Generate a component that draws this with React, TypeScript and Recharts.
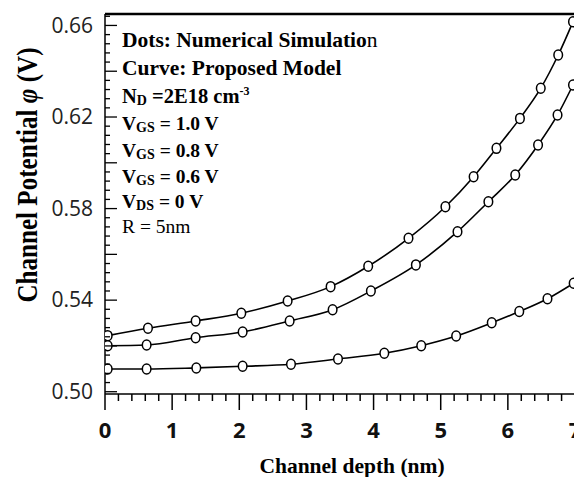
import React from 'react';
import { LineChart, Line, XAxis, YAxis, ReferenceLine } from 'recharts';

// VGS = 1.0 V (top curve)
const xVgs10 = [0.04, 0.64, 1.35, 2.03, 2.72, 3.36, 3.92, 4.52, 5.07, 5.49, 5.83, 6.18, 6.49, 6.75, 6.97];
const yVgs10 = [0.5245, 0.5277, 0.5309, 0.5343, 0.5396, 0.5459, 0.5548, 0.567, 0.5808, 0.5939, 0.6063, 0.6194, 0.6326, 0.6471, 0.6616];
// VGS = 0.8 V (middle curve)
const xVgs08 = [0.04, 0.62, 1.35, 2.05, 2.75, 3.39, 3.96, 4.63, 5.25, 5.71, 6.11, 6.45, 6.74, 6.97];
const yVgs08 = [0.5201, 0.5204, 0.5236, 0.5261, 0.5309, 0.5358, 0.544, 0.5554, 0.5699, 0.583, 0.5947, 0.6078, 0.6209, 0.634];
// VGS = 0.6 V (bottom curve)
const xVgs06 = [0.04, 0.62, 1.36, 2.05, 2.77, 3.47, 4.16, 4.71, 5.23, 5.76, 6.17, 6.59, 6.98];
const yVgs06 = [0.5099, 0.5099, 0.5104, 0.5111, 0.512, 0.5143, 0.5168, 0.5201, 0.5243, 0.5301, 0.535, 0.5406, 0.5474];

const xMajorTicks = [0, 1, 2, 3, 4, 5, 6, 7];
const yLabelTicks = [0.5, 0.54, 0.58, 0.62, 0.66];
const xDomain = [0, 7];
const yDomain = [0.499, 0.665];

const xTicks = Array.from({ length: 36 }, (_, i) => Math.round(i * 0.2 * 1000) / 1000);
const yTicks = Array.from({ length: 42 }, (_, i) => Math.round((0.5 + i * 0.004) * 10000) / 10000);

const toPoints = (xs: number[], ys: number[]) => xs.map((x, i) => ({ x, y: ys[i] }));
const dataVgs10 = toPoints(xVgs10, yVgs10);
const dataVgs08 = toPoints(xVgs08, yVgs08);
const dataVgs06 = toPoints(xVgs06, yVgs06);

const serif = '"Liberation Serif", "Times New Roman", serif';
const sans = '"Open Sans", sans-serif';

const XTick = (props: any) => {
  const { x, y, payload } = props;
  const v = payload.value;
  const major = xMajorTicks.some((m) => Math.abs(m - v) < 1e-6);
  return (
    <g>
      <line x1={x} x2={x} y1={y} y2={y + (major ? 16 : 7)} stroke="#000" strokeWidth={1.5} />
      {major && (
        <text x={x} y={y + 36} dy="0.35em" textAnchor="middle" fontFamily={sans} fontWeight="bold" fontSize={22} fill="#111">
          {Math.round(v)}
        </text>
      )}
    </g>
  );
};

const YTick = (props: any) => {
  const { x, y, payload } = props;
  const v = payload.value;
  const major = Math.abs(v * 50 - Math.round(v * 50)) < 1e-6;
  const label = yLabelTicks.some((m) => Math.abs(m - v) < 1e-6);
  return (
    <g>
      <line x1={x} x2={x + (major ? 12 : 5)} y1={y} y2={y} stroke="#000" strokeWidth={1.3} />
      {label && (
        <text x={x - 12} y={y} dy="0.35em" textAnchor="end" fontFamily={sans} fontSize={21} fill="#222">
          {v.toFixed(2)}
        </text>
      )}
    </g>
  );
};

const renderDot = (p: any) => {
  const { cx, cy, index } = p;
  if (cx == null || cy == null) return <g key={index} />;
  return <ellipse key={index} cx={cx} cy={cy} rx={4.3} ry={5} fill="#fff" stroke="#000" strokeWidth={1.5} />;
};

const sub = (t: string) => (
  <>
    <tspan fontSize={14} dy={2}>{t}</tspan>
  </>
);

export default function App() {
  return (
    <div style={{ position: 'absolute', left: 0, top: 0, width: 574, height: 477, overflow: 'hidden', background: '#fff' }}>
      <LineChart width={600} height={477} margin={{ top: 14, right: 25, bottom: 0, left: 0 }}>
        <XAxis
          dataKey="x"
          type="number"
          domain={xDomain}
          allowDataOverflow
          ticks={xTicks}
          interval={0}
          tickSize={0}
          tickMargin={0}
          tickLine={false}
          tick={XTick}
          height={83}
          axisLine={{ stroke: '#000', strokeWidth: 1.5 }}
        />
        <YAxis
          type="number"
          domain={yDomain}
          allowDataOverflow
          ticks={yTicks}
          interval={0}
          width={105}
          tickSize={0}
          tickMargin={0}
          tickLine={false}
          tick={YTick}
          axisLine={{ stroke: '#000', strokeWidth: 1.5 }}
        />
        <ReferenceLine y={0.665} stroke="#000" strokeWidth={2.5} />
        <Line data={dataVgs10} dataKey="y" name="VGS = 1.0 V" type="monotone" stroke="#000" strokeWidth={1.6} dot={renderDot} isAnimationActive={false} />
        <Line data={dataVgs08} dataKey="y" name="VGS = 0.8 V" type="monotone" stroke="#000" strokeWidth={1.6} dot={renderDot} isAnimationActive={false} />
        <Line data={dataVgs06} dataKey="y" name="VGS = 0.6 V" type="monotone" stroke="#000" strokeWidth={1.6} dot={renderDot} isAnimationActive={false} />

        <text x={352} y={473} textAnchor="middle" fontFamily={serif} fontWeight="bold" fontSize={21.5} fill="#000">
          Channel depth (nm)
        </text>
        <text
          x={0}
          y={0}
          transform="translate(37,175) rotate(-90)"
          textAnchor="middle"
          fontFamily={serif}
          fontWeight="bold"
          fontSize={29}
          textLength={255}
          lengthAdjust="spacingAndGlyphs"
          fill="#000"
        >
          Channel Potential <tspan fontStyle="italic">φ</tspan> (V)
        </text>

        <g fontFamily={serif} fill="#000">
          <text x={122} y={47} fontWeight="bold" fontSize={21.5}>
            Dots: Numerical Simulatio<tspan fontWeight="normal">n</tspan>
          </text>
          <text x={122} y={75} fontWeight="bold" fontSize={21.5}>
            Curve: Proposed Model
          </text>
          <text x={122} y={103} fontWeight="bold" fontSize={20.5}>
            N{sub('D')}
            <tspan dy={-2}>{' =2E18 cm'}</tspan>
            <tspan fontSize={12} dy={-8}>-3</tspan>
          </text>
          <text x={122} y={130} fontWeight="bold" fontSize={19.5}>
            V{sub('GS')}
            <tspan dy={-2}>{' = 1.0 V'}</tspan>
          </text>
          <text x={122} y={157} fontWeight="bold" fontSize={19.5}>
            V{sub('GS')}
            <tspan dy={-2}>{' = 0.8 V'}</tspan>
          </text>
          <text x={122} y={183} fontWeight="bold" fontSize={19.5}>
            V{sub('GS')}
            <tspan dy={-2}>{' = 0.6 V'}</tspan>
          </text>
          <text x={122} y={208} fontWeight="bold" fontSize={19.5}>
            V{sub('DS')}
            <tspan dy={-2}>{' = 0 V'}</tspan>
          </text>
          <text x={122} y={233} fontSize={19.5}>
            R = 5nm
          </text>
        </g>
      </LineChart>
    </div>
  );
}
